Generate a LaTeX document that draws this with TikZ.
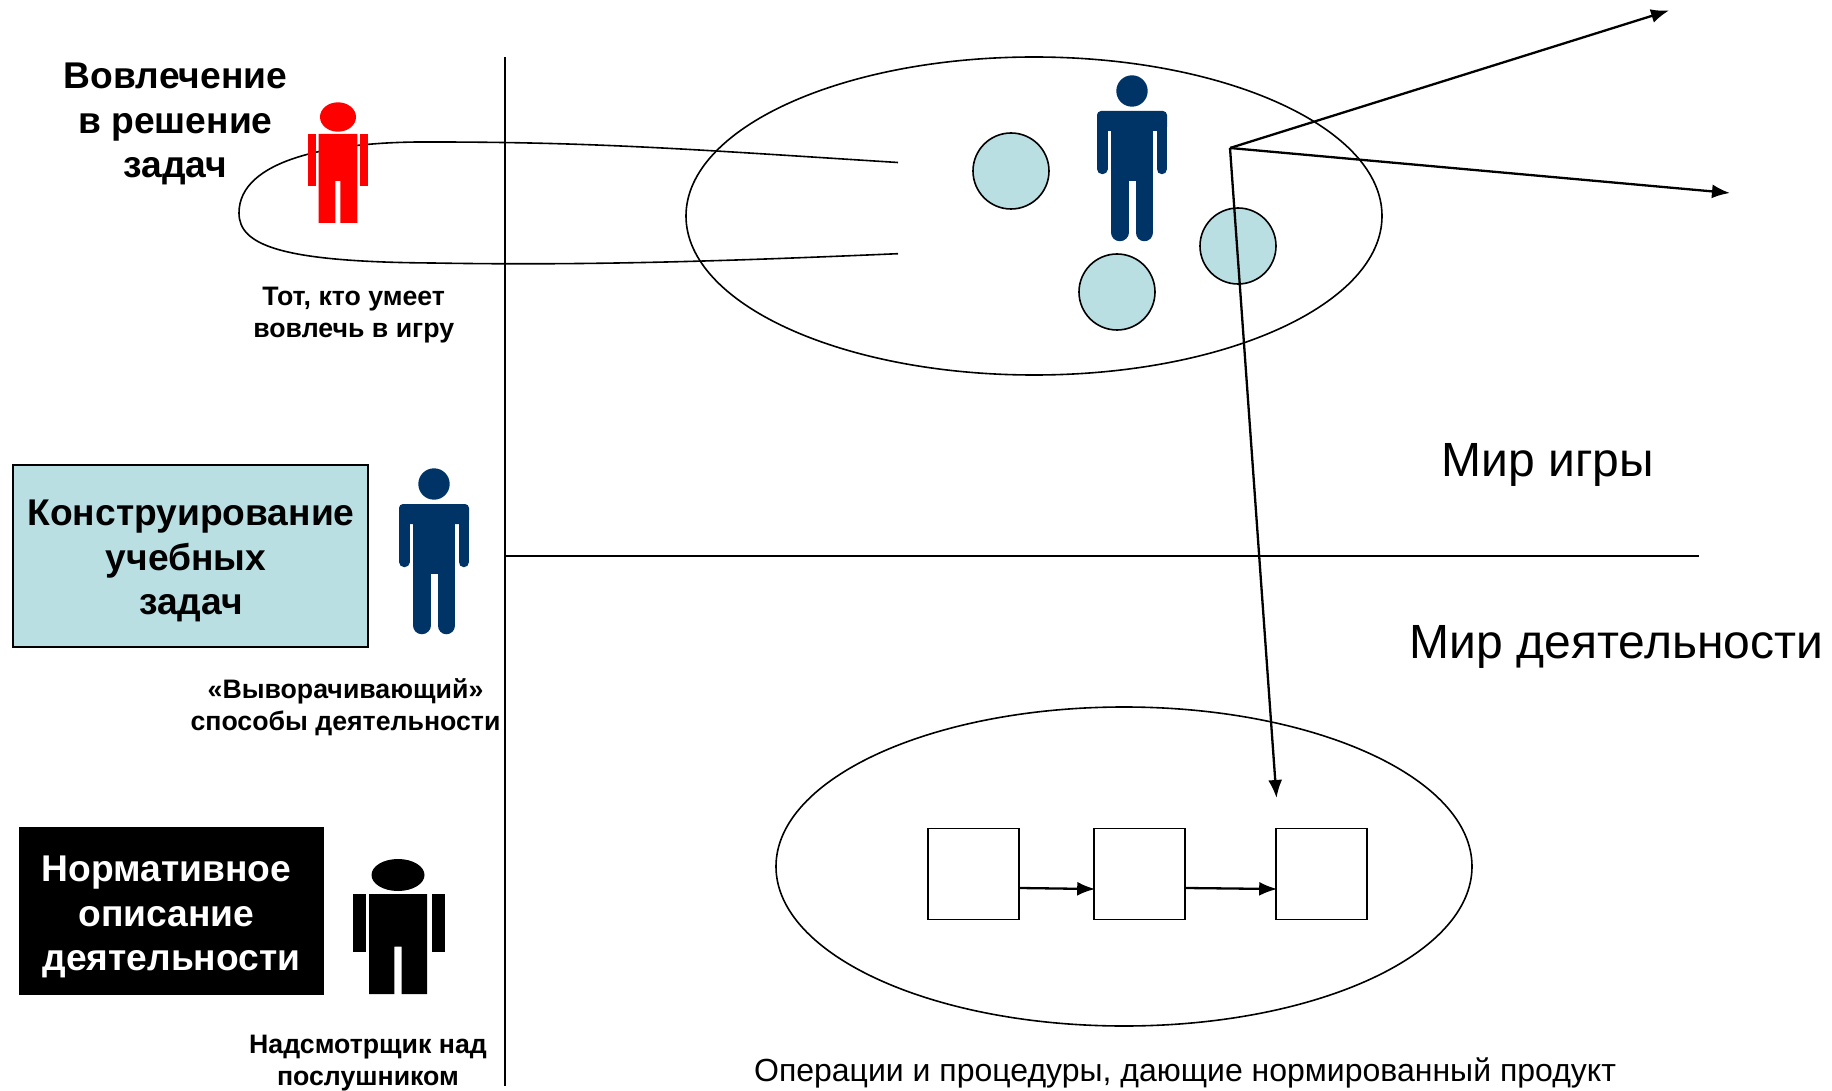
\documentclass[tikz,border=0pt]{standalone}
\usepackage{fontspec}
\setmainfont{Liberation Sans}
\usetikzlibrary{arrows.meta}
\definecolor{navy}{HTML}{003366}
\definecolor{teal}{HTML}{B9DFE3}
\newcommand{\trailgap}{\hbox{\kern10pt}}
\tikzset{
  thinline/.style={draw=black,line width=1.6pt},
  arrowline/.style={draw=black,line width=2.3pt,-{Latex[length=18pt,width=14pt]}},
  bubble/.style={circle,draw=black,line width=1.6pt,fill=teal,minimum size=76pt,inner sep=0pt},
  stepbox/.style={rectangle,draw=black,line width=1.6pt,fill=white,minimum size=91pt,inner sep=0pt},
  bigtitle/.style={font=\fontsize{37.2}{44.7}\selectfont\bfseries,align=center,inner sep=0pt},
  subtitle/.style={font=\fontsize{26.7}{32}\selectfont\bfseries,align=center,inner sep=0pt},
  worldlabel/.style={font=\fontsize{48}{56}\selectfont,anchor=base,inner sep=0pt},
}
\newcommand{\navyfigure}[2]{%
  \begin{scope}[shift={(#1,#2)},navy]
    \fill (0,0) circle[radius=15.7];
    \fill[rounded corners=4pt] (-35,20) rectangle (35,40);
    \fill (-21,30) rectangle (21,90);
    \draw[line width=10.5pt,line cap=round] (-29.75,30) -- (-29.75,78);
    \draw[line width=10.5pt,line cap=round] (29.75,30) -- (29.75,78);
    \draw[line width=17.5pt,line cap=round] (-12.25,85) -- (-12.25,141.5);
    \draw[line width=17.5pt,line cap=round] (12.25,85) -- (12.25,141.5);
    \fill (-8,70) rectangle (8,81);
  \end{scope}}
\begin{document}
\begin{tikzpicture}[x=1pt,y=-1pt]
\useasboundingbox (0,0) rectangle (1832,1091);
% axes
\coordinate (vtop) at (505,57);
\coordinate (vbot) at (505,1086);
\coordinate (hleft) at (505,556);
\coordinate (hright) at (1699,556);
\draw[thinline] (vtop) -- (vbot);
\draw[thinline] (hleft) -- (hright);
% ellipses
\draw[thinline] (1034,216) ellipse[x radius=348,y radius=159];
\draw[thinline] (1124,866.5) ellipse[x radius=348,y radius=159.5];
% loop
\draw[thinline] (898,162.5) .. controls (700,150) and (600,142) .. (433,142)
  .. controls (330,141) and (239,160) .. (239,213)
  .. controls (239,245) and (280,262) .. (433,263)
  .. controls (600,266) and (750,260) .. (898,253.7);
% circles
\node[bubble] (c1) at (1011,171) {};
\node[bubble] (c2) at (1117,292) {};
\node[bubble] (c3) at (1238,246) {};
% navy figures
\navyfigure{1132}{91}
\navyfigure{434}{484}
% red figure
\begin{scope}[red]
  \fill (338,117) ellipse[x radius=18,y radius=14.7];
  \fill (308,134) rectangle (316,186);
  \fill (360,134) rectangle (368,186);
  \fill (318.7,134) -- (357.3,134) -- (357.3,223) -- (340.3,223) -- (340.3,181) -- (335.3,181) -- (335.3,223) -- (318.7,223) -- cycle;
\end{scope}
% black figure
\fill (398,875) ellipse[x radius=26.5,y radius=16];
\fill (353,894) rectangle (366,952);
\fill (432,894) rectangle (445,952);
\fill (369,894) -- (427,894) -- (427,994) -- (401.7,994) -- (401.7,946.7) -- (394.3,946.7) -- (394.3,994) -- (369,994) -- cycle;
% arrows
\coordinate (o) at (1230,148);
\coordinate (a1) at (1669,10.5);
\coordinate (a2) at (1730,193);
\coordinate (a3) at (1276.5,798);
\draw[arrowline] (o) -- (a1);
\draw[arrowline] (o) -- (a2);
\draw[arrowline] (o) -- (a3);
% process
\node[stepbox] (s1) at (973.5,874) {};
\node[stepbox] (s2) at (1139.5,874) {};
\node[stepbox] (s3) at (1321.5,874) {};
\draw[arrowline,shorten >=-2pt] ([yshift=-14pt]s1.east) -- ([yshift=-15pt]s2.west);
\draw[arrowline,shorten >=-2pt] ([yshift=-14pt]s2.east) -- ([yshift=-15pt]s3.west);
% left boxes
\node[rectangle,draw=black,line width=1.6pt,fill=teal,minimum width=355pt,minimum height=182pt,inner sep=0pt] (b1) at (190.7,556) {};
\node[rectangle,fill=black,minimum width=304.7pt,minimum height=168pt,inner sep=0pt] (b2) at (171.7,911) {};
% titles
\node[bigtitle] (t1) at (175.5,124) {Вовлечение\\в решение\\задач};
\node[bigtitle] (t2) at (191,561) {Конструирование\\учебных\trailgap\\задач};
\node[bigtitle,text=white] (t3) at (171.5,917) {Нормативное\trailgap\\описание\trailgap\\деятельности};
% captions
\node[subtitle] (n1) at (353.7,315) {Тот, кто умеет\\вовлечь в игру};
\node[subtitle] (n2) at (345.5,707.5) {«Выворачивающий»\\способы деятельности};
\node[subtitle] (n3) at (368,1063.5) {Надсмотрщик над\\послушником};
% world labels
\node[worldlabel] (w1) at (1548,476.5) {Мир игры};
\node[worldlabel] (w2) at (1616.5,658.5) {Мир деятельности};
\node[font=\fontsize{32}{36}\selectfont,anchor=base,inner sep=0pt] (w3) at (1185,1081) {Операции и процедуры, дающие нормированный продукт};
\end{tikzpicture}
\end{document}
